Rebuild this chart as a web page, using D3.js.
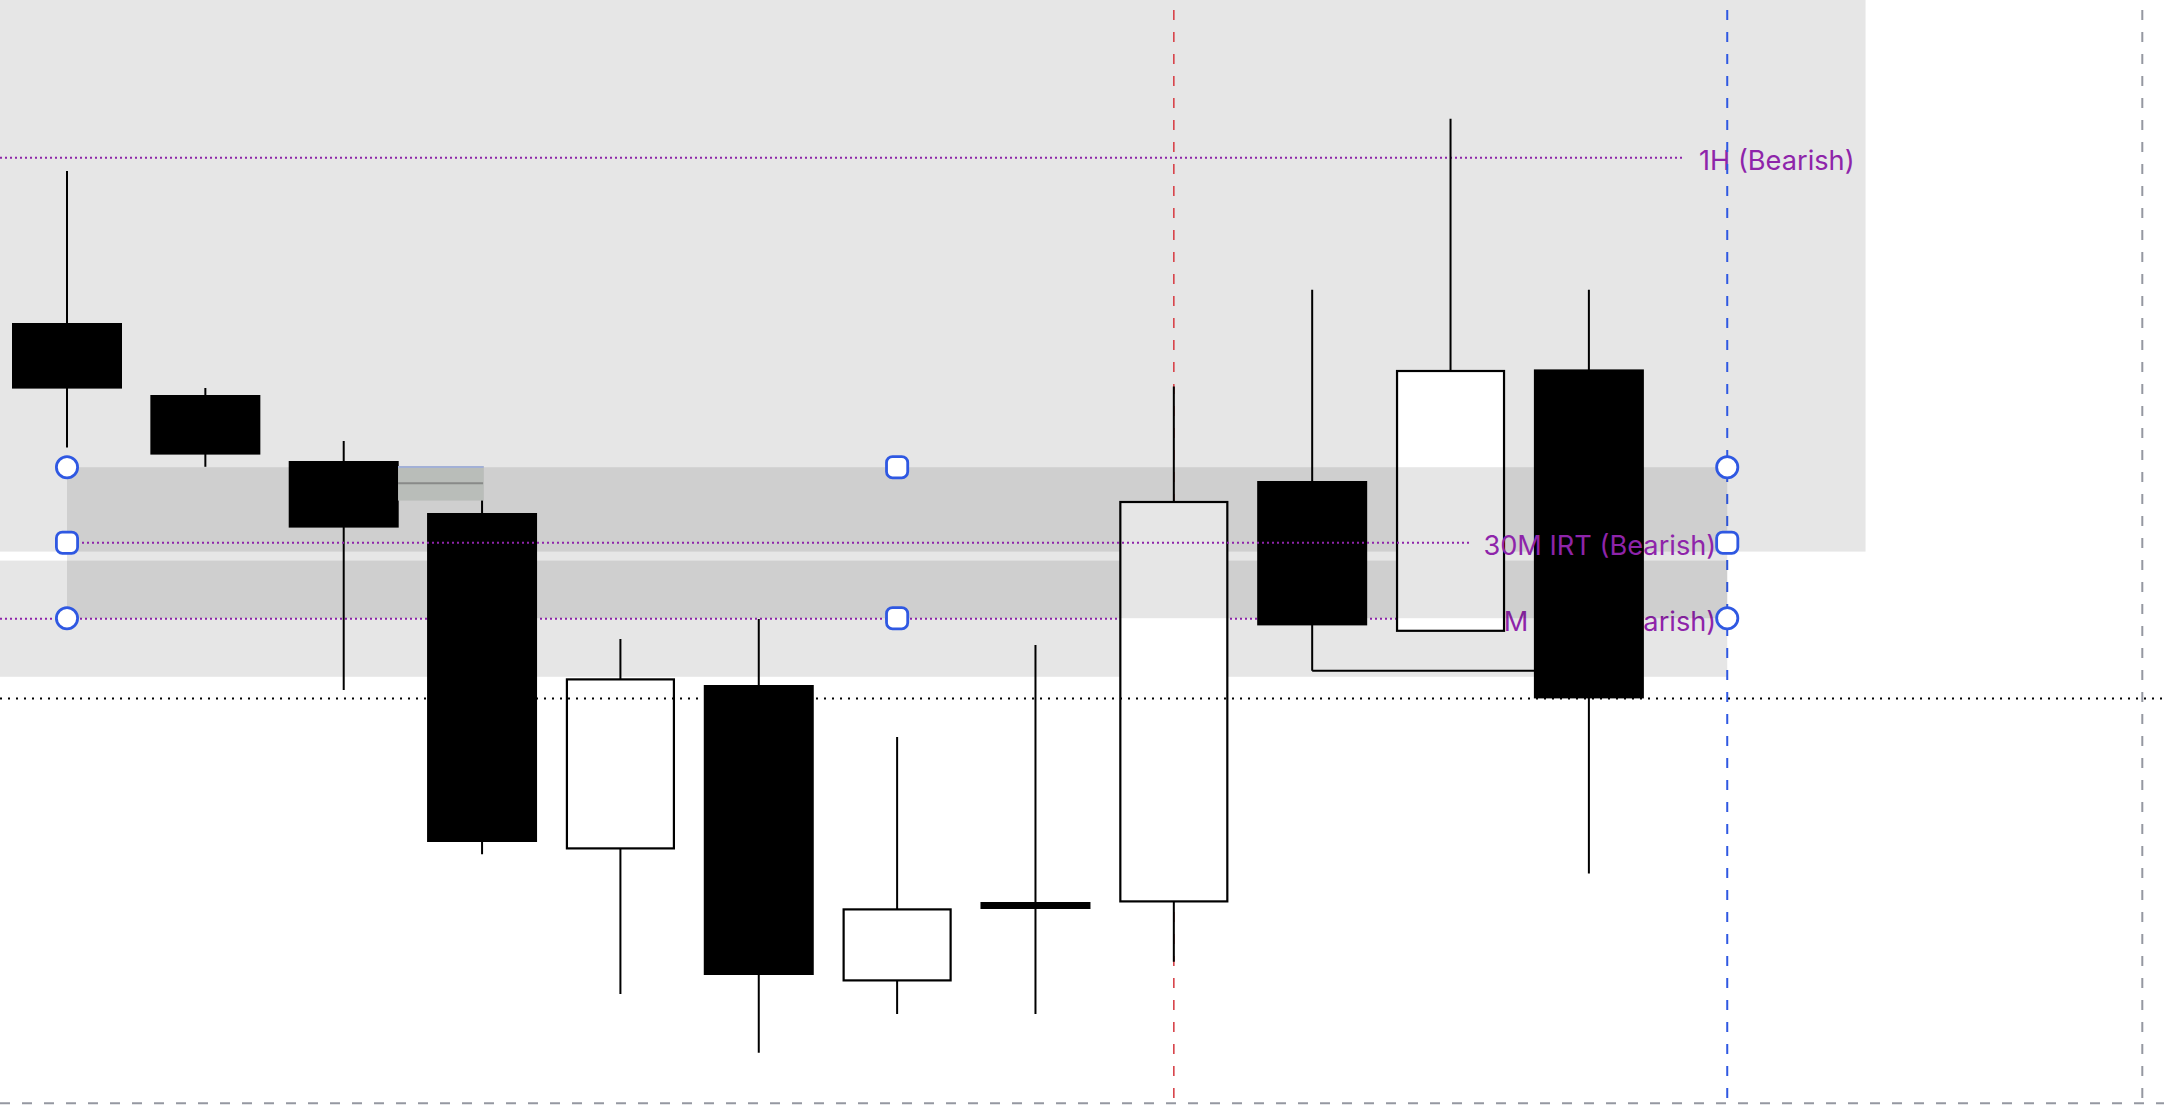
<!DOCTYPE html>
<html>
<head>
<meta charset="utf-8">
<script src="https://cdn.jsdelivr.net/npm/d3@7"></script>
<style>
  html, body { margin: 0; padding: 0; background: #ffffff; overflow: hidden; }
  .zoneLab { font-family: Inter, "Noto Sans", sans-serif; font-size: 27.2px; fill: #8e24aa; }
</style>
</head>
<body>
<script>
// canvas size
var w = 2164;
var h = 1106;

// candles (price units, 2px per point)
var bars   = [0, 1, 2, 3, 4, 5, 6, 7, 8, 9, 10, 11];
var opens  = [5391.5, 5355.5, 5322.5, 5296.5, 5128.8, 5210.5, 5062.8, 5102.0, 5102.3, 5312.5, 5237.6, 5368.3];
var highs  = [5467.5, 5359.0, 5332.5, 5320.0, 5233.5, 5243.5, 5184.5, 5230.5, 5359.7, 5408.1, 5493.6, 5408.1];
var lows   = [5329.2, 5319.6, 5208.0, 5125.9, 5056.0, 5026.6, 5046.0, 5046.0, 5072.1, 5217.6, 5237.6, 5116.2];
var closes = [5358.7, 5325.7, 5289.2, 5132.0, 5213.3, 5065.5, 5098.3, 5098.5, 5302.0, 5240.3, 5367.5, 5203.8];

// zones (the last one is the selected drawing)
var zoneLabels  = ["1H (Bearish)", "15M BOS (Bearish)", "30M IRT (Bearish)"];
var zoneTops    = [5671.0, 5272.7, 5319.4];
var zoneBottoms = [5277.2, 5214.6, 5243.9];
var zoneFrom    = [-1, -1, 0];
var zoneTo      = [13, 12, 12];

// small gap box between bar 2 and bar 3
var gapTop = 5320.0;
var gapBottom = 5302.7;
var gapFrom = 2.4;
var gapTo = 3;

// vertical marker lines (bar index)
var redBar = 8;
var blueBar = 12;
var grayBar = 15;

// low of bar 9 carried to bar 11
var sweepFrom = 9;
var sweepTo = 11;

// scales
var x = d3.scaleLinear().domain([0, 15]).range([67, 2142.3]);
var y = d3.scaleLinear().domain([5000, 5553]).range([h, 0]);
var step = x(1) - x(0);
var bw = step * 0.795;

var svg = d3.select("body")
            .append("svg")
            .attr("width", w)
            .attr("height", h);

svg.append("rect")
   .attr("width", w)
   .attr("height", h)
   .attr("fill", "#ffffff");

var purple = "#8e24aa";
var blue = "#2f58e2";

// zone shade
var drawZoneRect = function(i) {
    var x0 = x(zoneFrom[i]);
    var x1 = x(zoneTo[i]);
    var yT = y(zoneTops[i]);
    var yB = y(zoneBottoms[i]);
    svg.append("rect")
       .attr("x", x0)
       .attr("y", yT)
       .attr("width", x1 - x0)
       .attr("height", yB - yT)
       .attr("fill", "#000000")
       .attr("fill-opacity", 0.098);
};

// zone dotted midline + label
var drawZoneLabel = function(i) {
    var x0 = x(zoneFrom[i]);
    var x1 = x(zoneTo[i]);
    var yM = y((zoneTops[i] + zoneBottoms[i]) / 2);

    var mid = svg.append("line")
       .attr("x1", Math.max(x0, 0))
       .attr("y1", yM)
       .attr("y2", yM)
       .attr("stroke", purple)
       .attr("stroke-width", 2)
       .attr("stroke-dasharray", "2,3");

    var lab = svg.append("text")
       .text(zoneLabels[i])
       .attr("class", "zoneLab")
       .attr("text-anchor", "end")
       .attr("x", x1 - 11)
       .attr("y", yM + 12.5);
    var tw = lab.node().getComputedTextLength();
    mid.attr("x2", x1 - 11 - tw - 14);
};

drawZoneRect(0);
drawZoneRect(1);
drawZoneLabel(0);
drawZoneLabel(1);

// vertical markers
var vline = function(bar, col, sw) {
    svg.append("line")
       .attr("x1", x(bar))
       .attr("x2", x(bar))
       .attr("y1", 0)
       .attr("y2", h)
       .attr("stroke", col)
       .attr("stroke-width", sw)
       .attr("stroke-dasharray", "10,12")
       .attr("stroke-dashoffset", 12);
};
vline(redBar, "#d8434a", 1.6);
vline(blueBar, blue, 2);
vline(grayBar, "#9598a1", 2);

// bottom dashed border
svg.append("line")
   .attr("x1", 0)
   .attr("x2", w)
   .attr("y1", 1103.3)
   .attr("y2", 1103.3)
   .attr("stroke", "#9598a1")
   .attr("stroke-width", 2)
   .attr("stroke-dasharray", "10,12");

// candles
for (var i = 0; i < bars.length; i++) {
    var cx = x(bars[i]);
    var up = closes[i] >= opens[i];

    svg.append("line")
       .attr("x1", cx)
       .attr("x2", cx)
       .attr("y1", y(highs[i]))
       .attr("y2", y(lows[i]))
       .attr("stroke", "#000000")
       .attr("stroke-width", 2);

    var bodyTop = y(Math.max(opens[i], closes[i]));
    var bodyBot = y(Math.min(opens[i], closes[i]));
    if (up) {
        svg.append("rect")
           .attr("x", cx - bw/2 + 1.5)
           .attr("y", bodyTop)
           .attr("width", bw - 3)
           .attr("height", bodyBot - bodyTop)
           .attr("fill", "#ffffff")
           .attr("stroke", "#000000")
           .attr("stroke-width", 2.2);
    } else {
        svg.append("rect")
           .attr("x", cx - bw/2)
           .attr("y", bodyTop)
           .attr("width", bw)
           .attr("height", Math.max(bodyBot - bodyTop, 1))
           .attr("fill", "#000000");
    }
}

// sweep line from bar 9 low
svg.append("line")
   .attr("x1", x(sweepFrom))
   .attr("x2", x(sweepTo))
   .attr("y1", y(lows[sweepFrom]))
   .attr("y2", y(lows[sweepFrom]))
   .attr("stroke", "#000000")
   .attr("stroke-width", 2);

// last price line
svg.append("line")
   .attr("x1", 0)
   .attr("x2", w)
   .attr("y1", y(closes[closes.length-1]))
   .attr("y2", y(closes[closes.length-1]))
   .attr("stroke", "#000000")
   .attr("stroke-width", 2)
   .attr("stroke-dasharray", "2,6");

// selected zone on top
drawZoneRect(2);

// small gap box
svg.append("rect")
   .attr("x", x(gapFrom) - 1)
   .attr("y", y(gapTop))
   .attr("width", x(gapTo) - x(gapFrom) + 2.5)
   .attr("height", y(gapBottom) - y(gapTop))
   .attr("fill", "#b9bdb9");
svg.append("line")
   .attr("x1", x(gapFrom) - 1)
   .attr("x2", x(gapTo) + 1.5)
   .attr("y1", y(gapTop) + 1)
   .attr("y2", y(gapTop) + 1)
   .attr("stroke", "#a2b0d6")
   .attr("stroke-width", 2);
svg.append("line")
   .attr("x1", x(gapFrom) - 1)
   .attr("x2", x(gapTo) + 1)
   .attr("y1", y((gapTop + gapBottom)/2))
   .attr("y2", y((gapTop + gapBottom)/2))
   .attr("stroke", "#888a88")
   .attr("stroke-width", 2);

drawZoneLabel(2);

// selection handles
var sx0 = x(zoneFrom[2]);
var sx1 = x(zoneTo[2]);
var sxm = (sx0 + sx1) / 2;
var syT = y(zoneTops[2]);
var syB = y(zoneBottoms[2]);
var syM = (syT + syB) / 2;

var corners = [[sx0, syT], [sx1, syT], [sx0, syB], [sx1, syB]];
var mids = [[sxm, syT], [sxm, syB], [sx0, syM], [sx1, syM]];

svg.selectAll("circle.handle")
   .data(corners)
   .enter()
   .append("circle")
   .attr("class", "handle")
   .attr("cx", function(d) { return d[0]; })
   .attr("cy", function(d) { return d[1]; })
   .attr("r", 10.6)
   .attr("fill", "#ffffff")
   .attr("stroke", blue)
   .attr("stroke-width", 2.8);

svg.selectAll("rect.handle")
   .data(mids)
   .enter()
   .append("rect")
   .attr("class", "handle")
   .attr("x", function(d) { return d[0] - 10.6; })
   .attr("y", function(d) { return d[1] - 10.6; })
   .attr("width", 21.2)
   .attr("height", 21.2)
   .attr("rx", 6)
   .attr("fill", "#ffffff")
   .attr("stroke", blue)
   .attr("stroke-width", 2.8);
</script>
</body>
</html>
